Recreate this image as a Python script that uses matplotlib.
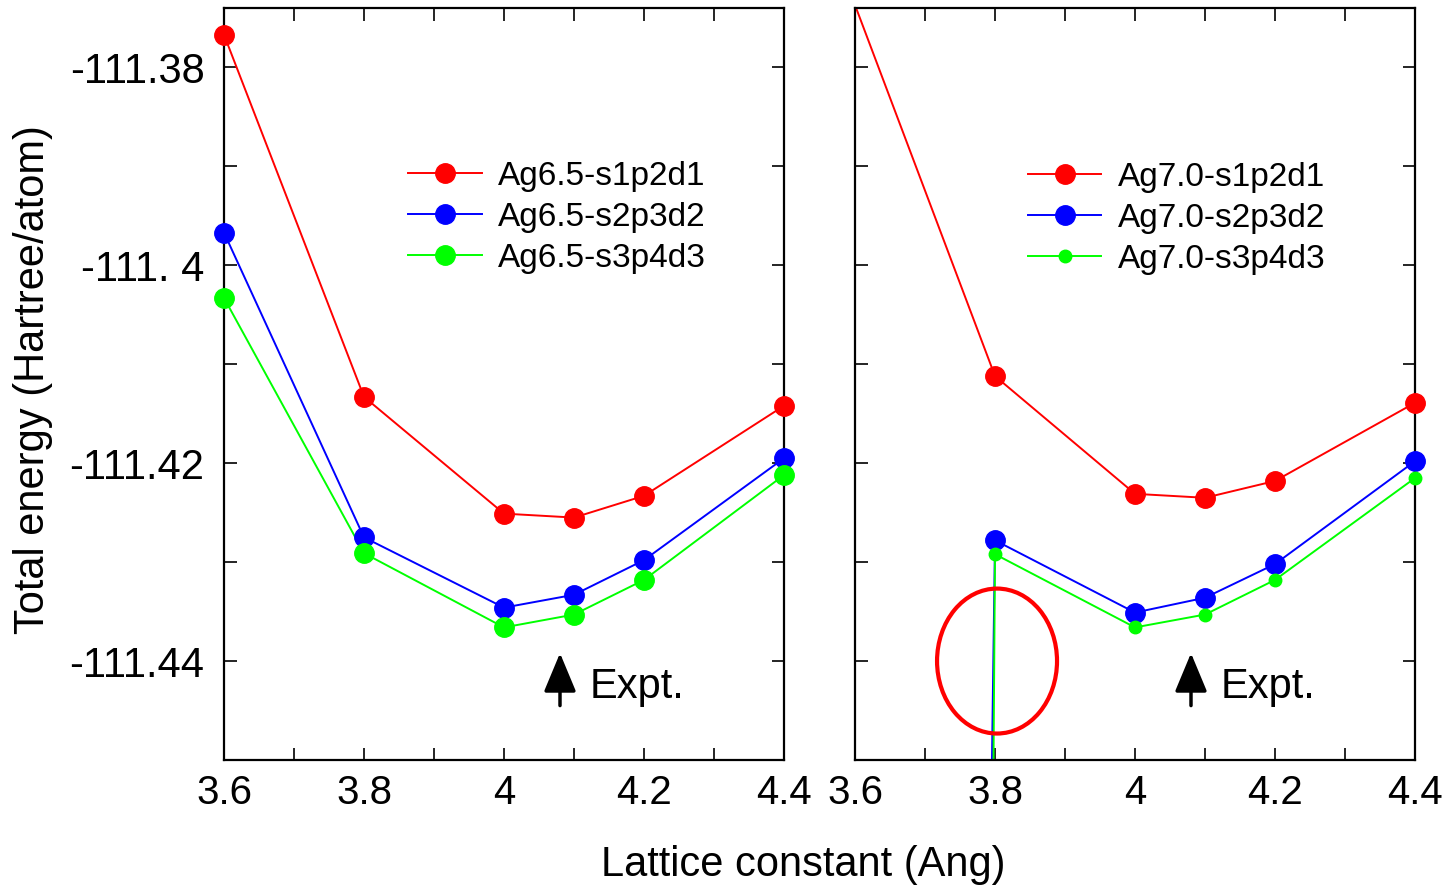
import numpy as np
import matplotlib
matplotlib.use("Agg")
import matplotlib.pyplot as plt
from matplotlib.patches import Ellipse

plt.rcParams['font.family'] = ['Liberation Sans', 'DejaVu Sans']

# lattice constants (Ang)
lat = [3.6, 3.8, 4.0, 4.1, 4.2, 4.4]

# left panel: Ag6.5 basis sets (Hartree/atom)
ag65_s1p2d1 = [-111.3767, -111.4133, -111.4251, -111.4255, -111.4233, -111.4142]
ag65_s2p3d2 = [-111.3967, -111.4275, -111.4346, -111.4333, -111.4298, -111.4195]
ag65_s3p4d3 = [-111.4033, -111.4291, -111.4366, -111.4353, -111.4318, -111.4212]

# right panel: Ag7.0 basis sets
ag70_s1p2d1 = [-111.3737, -111.4112, -111.4231, -111.4235, -111.4218, -111.4139]
ag70_s2p3d2 = [-112.45, -111.4278, -111.4351, -111.4336, -111.4302, -111.4198]
ag70_s3p4d3 = [-113.40, -111.4292, -111.4366, -111.4353, -111.4318, -111.4215]

expt = 4.08
ylim = (-111.45, -111.374)
yticks = [-111.44, -111.42, -111.40, -111.38]
ytick_labels = ['-111.44', '-111.42', '-111. 4', '-111.38']
xticks = [3.6, 3.8, 4.0, 4.2, 4.4]
xtick_labels = ['3.6', '3.8', '4', '4.2', '4.4']

fig = plt.figure(figsize=(14.49, 8.89), dpi=100)
ax1 = fig.add_axes([224 / 1449, 129 / 889, 560 / 1449, 752 / 889])
ax2 = fig.add_axes([855 / 1449, 129 / 889, 560 / 1449, 752 / 889])


def draw(ax, series, labels, sizes):
    for (vals, lab, col, ms) in zip(series, labels, ['#ff0000', '#0000ff', '#00ff00'], sizes):
        v = np.array(vals)
        ax.plot(lat, v, color=col, lw=1.4, zorder=2)
        inside = np.where((v >= ylim[0]) & (v <= ylim[1]), v, np.nan)
        ax.plot(lat, inside, 'o', color=col, ms=ms, clip_on=False, zorder=3)
        ax.plot([], [], '-o', color=col, lw=1.4, ms=ms, label=lab)
    ax.set_xlim(3.6, 4.4)
    ax.set_ylim(*ylim)
    ax.set_xticks(xticks)
    ax.set_xticklabels(xtick_labels)
    ax.set_xticks([3.7, 3.9, 4.1, 4.3], minor=True)
    ax.set_yticks(yticks)
    ax.set_yticks([-111.45, -111.43, -111.41, -111.39], minor=True)
    ax.tick_params(which='both', direction='in', top=True, right=True,
                   length=9, width=1.2, labelsize=29, pad=10)
    for s in ax.spines.values():
        s.set_linewidth(1.6)
    ax.annotate('', xy=(expt, -111.4392), xytext=(expt, -111.4445),
                arrowprops=dict(arrowstyle='-|>,head_width=0.5,head_length=1.2',
                                mutation_scale=20, color='black', lw=2.5,
                                shrinkA=0, shrinkB=0))
    ax.text(expt + 0.042, -111.4426, 'Expt.', fontsize=30, va='center', ha='left')


draw(ax1, [ag65_s1p2d1, ag65_s2p3d2, ag65_s3p4d3],
     ['Ag6.5-s1p2d1', 'Ag6.5-s2p3d2', 'Ag6.5-s3p4d3'], [14, 14, 14])
draw(ax2, [ag70_s1p2d1, ag70_s2p3d2, ag70_s3p4d3],
     ['Ag7.0-s1p2d1', 'Ag7.0-s2p3d2', 'Ag7.0-s3p4d3'], [14, 14, 9])
ax1.set_yticklabels(ytick_labels)
ax1.tick_params(axis='y', pad=14, labelsize=30)
ax2.set_yticklabels([])

ax1.legend(loc='upper left', bbox_to_anchor=(0.329, 0.797), frameon=False,
           fontsize=24, handlelength=2.2, handletextpad=0.5, labelspacing=0.3,
           borderpad=0, borderaxespad=0)
ax2.legend(loc='upper left', bbox_to_anchor=(0.309, 0.795), frameon=False,
           fontsize=24, handlelength=2.2, handletextpad=0.5, labelspacing=0.3,
           borderpad=0, borderaxespad=0)

ax2.add_patch(Ellipse((3.8029, -111.44), 0.1714, 0.01465, fill=False,
                      edgecolor='#ff0000', lw=3, zorder=4))

fig.text(33 / 1449, 1 - 380 / 889, 'Total energy (Hartree/atom)', rotation=90,
         fontsize=30, ha='center', va='center')
fig.text(803 / 1449, 1 - 865 / 889, 'Lattice constant (Ang)', fontsize=30,
         ha='center', va='center')

fig.savefig('out.png', dpi=100)
